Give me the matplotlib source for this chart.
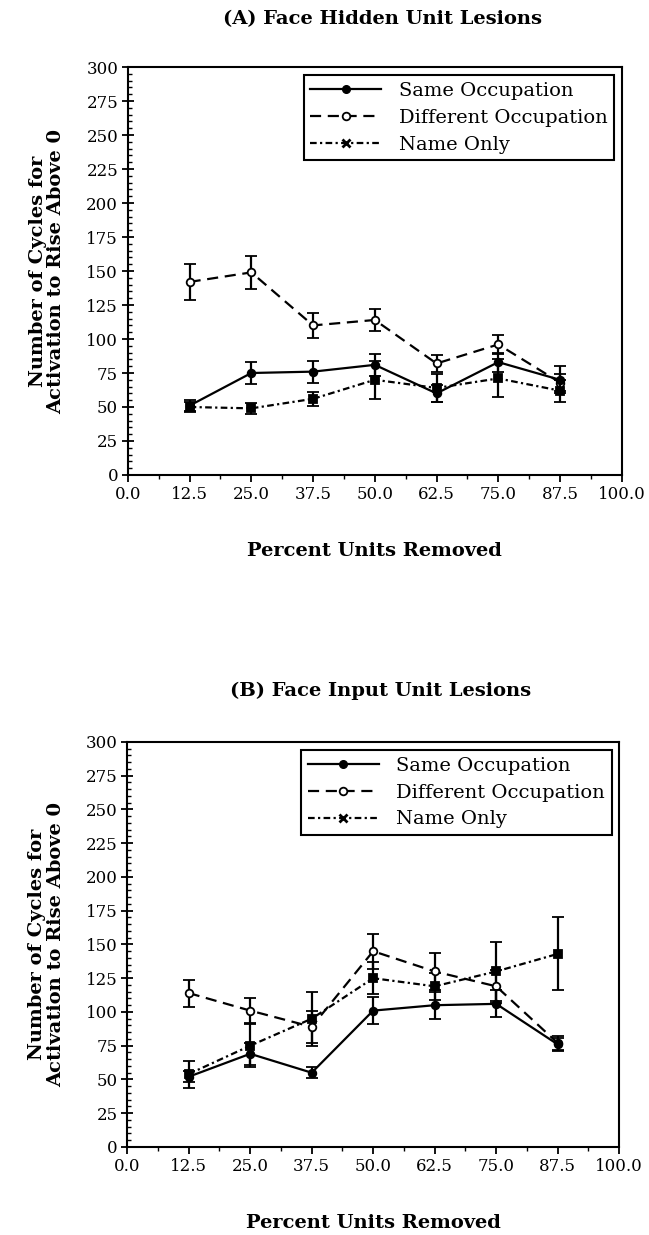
import matplotlib
matplotlib.use("Agg")
import matplotlib.pyplot as plt
from matplotlib.lines import Line2D
from matplotlib.ticker import MultipleLocator, FormatStrFormatter

plt.rcParams['font.family'] = ['DejaVu Serif']

percent = [12.5, 25.0, 37.5, 50.0, 62.5, 75.0, 87.5]
series_names = ["Same Occupation", "Different Occupation", "Name Only"]

# (A) Face Hidden Unit Lesions
a_same = [51, 75, 76, 81, 60, 83, 70]
a_same_err = [4, 8, 8, 8, 6, 7, 10]
a_diff = [142, 149, 110, 114, 82, 96, 68]
a_diff_err = [13, 12, 9, 8, 6, 7, 6]
a_name = [50, 49, 56, 70, 64, 71, 62]
a_name_err = [4, 4, 5, 14, 10, 14, 8]

# (B) Face Input Unit Lesions
b_same = [52, 69, 55, 101, 105, 106, 76]
b_same_err = [4, 8, 4, 10, 10, 10, 5]
b_diff = [114, 101, 89, 145, 130, 119, 77]
b_diff_err = [10, 9, 12, 13, 14, 12, 5]
b_name = [54, 75, 95, 125, 119, 130, 143]
b_name_err = [10, 16, 20, 12, 10, 22, 27]

titles = ["(A) Face Hidden Unit Lesions", "(B) Face Input Unit Lesions"]

fig = plt.figure(figsize=(6.49, 12.35), dpi=100)
ax_a = fig.add_axes([0.197, 0.6154, 0.761, 0.3303])
ax_b = fig.add_axes([0.196, 0.0713, 0.758, 0.3279])

styles = [
    dict(ls='-', marker='o', mfc='black'),
    dict(ls=(0, (5, 3)), marker='o', mfc='white'),
    dict(ls=(0, (3, 1.5, 1, 1.5)), marker='s', mfc='black'),
]


def draw_panel(ax, title, vals, errs, tpad):
    for i in range(3):
        st = styles[i]
        ax.errorbar(percent, vals[i], yerr=errs[i], color='black', lw=1.6,
                    ls=st['ls'], marker=st['marker'], ms=5.5, mfc=st['mfc'],
                    mec='black', mew=1.3, ecolor='black', elinewidth=1.6,
                    capsize=4, capthick=1.6, zorder=3 - i)
    ax.set_xlim(0, 100)
    ax.set_ylim(0, 300)
    ax.xaxis.set_major_locator(MultipleLocator(12.5))
    ax.xaxis.set_minor_locator(MultipleLocator(6.25))
    ax.xaxis.set_major_formatter(FormatStrFormatter('%.1f'))
    ax.yaxis.set_major_locator(MultipleLocator(25))
    ax.yaxis.set_minor_locator(MultipleLocator(5))
    ax.tick_params(which='major', direction='inout', length=8, width=1.3,
                   labelsize=12, pad=3)
    ax.tick_params(which='minor', direction='in', length=3, width=1)
    ax.tick_params(axis='x', which='minor', direction='out', length=3)
    ax.tick_params(axis='x', which='major', direction='out', length=5)
    for s in ax.spines.values():
        s.set_linewidth(1.5)
    ax.set_title(title, fontsize=14, fontweight='bold', pad=tpad, x=0.516)
    ax.set_xlabel("Percent Units Removed", fontsize=14, fontweight='bold',
                  labelpad=28)
    ax.set_ylabel("Number of Cycles for\nActivation to Rise Above 0",
                  fontsize=14, fontweight='bold', labelpad=15,
                  linespacing=1.05)
    handles = [
        Line2D([], [], color='black', lw=1.6, ls=styles[0]['ls'], marker='o',
               ms=5.5, mfc='black', mec='black'),
        Line2D([], [], color='black', lw=1.6, ls=styles[1]['ls'], marker='o',
               ms=5.5, mfc='white', mec='black', mew=1.3),
        Line2D([], [], color='black', lw=1.6, ls=styles[2]['ls'], marker='x',
               ms=6, mec='black', mew=2),
    ]
    leg = ax.legend(handles, series_names, loc='upper right',
                    bbox_to_anchor=(0.985, 0.98), fontsize=14,
                    handlelength=3.65, handletextpad=0.9, labelspacing=0.45,
                    borderpad=0.35, borderaxespad=0, fancybox=False,
                    framealpha=1, edgecolor='black')
    leg.get_frame().set_linewidth(1.5)


draw_panel(ax_a, titles[0], [a_same, a_diff, a_name],
           [a_same_err, a_diff_err, a_name_err], 31)
draw_panel(ax_b, titles[1], [b_same, b_diff, b_name],
           [b_same_err, b_diff_err, b_name_err], 33)

fig.savefig("out.png", dpi=100)
